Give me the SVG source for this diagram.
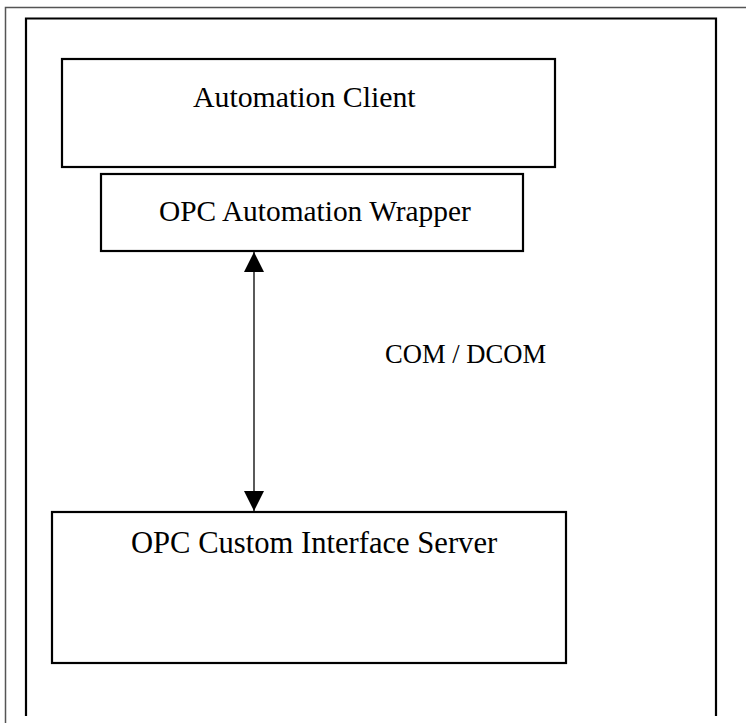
<svg xmlns="http://www.w3.org/2000/svg" width="746" height="723" viewBox="0 0 746 723">
<style>
.box{fill:#fff;stroke:#000;stroke-width:2.2}
.lbl{font-family:"Liberation Serif","Times New Roman",serif;fill:#000}
</style>
<defs>
<marker id="ah" viewBox="0 0 10 10" refX="10" refY="5" markerWidth="20" markerHeight="20" markerUnits="userSpaceOnUse" orient="auto-start-reverse">
<path d="M0,0 L10,5 L0,10 z" fill="#000"/>
</marker>
</defs>
<rect width="746" height="723" fill="#fff"/>
<g id="frame">
<path d="M5.5,723 V7.5 H746" fill="none" stroke="#555" stroke-width="1.5"/>
<path d="M26,716 V18.5 H716 V716" fill="none" stroke="#000" stroke-width="2.2"/>
</g>
<g id="automation-client">
<rect class="box" x="62" y="59" width="493" height="108"/>
<text class="lbl" x="193" y="107" font-size="29.8">Automation Client</text>
</g>
<g id="opc-automation-wrapper">
<rect class="box" x="101" y="174" width="422" height="77"/>
<text class="lbl" x="159" y="221" font-size="29.4">OPC Automation Wrapper</text>
</g>
<g id="opc-custom-interface-server">
<rect class="box" x="52" y="512" width="514" height="151"/>
<text class="lbl" x="131" y="553" font-size="30.6">OPC Custom Interface Server</text>
</g>
<g id="connectors">
<line x1="254" y1="252" x2="254" y2="511" stroke="#000" stroke-width="1.3" marker-start="url(#ah)" marker-end="url(#ah)"/>
<text class="lbl" x="385" y="363" font-size="26.6">COM / DCOM</text>
</g>
</svg>
